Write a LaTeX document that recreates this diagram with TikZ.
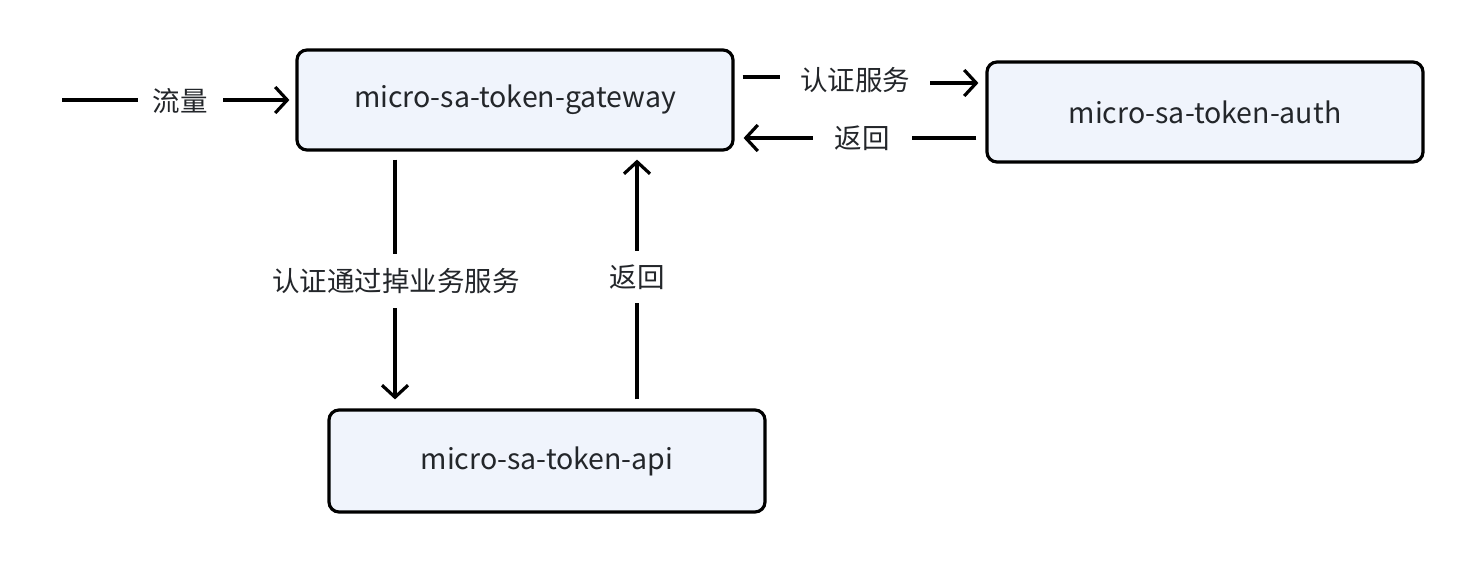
\documentclass[tikz,border=0pt]{standalone}
\usepackage{fontspec}
\setmainfont{Noto Sans CJK SC}
\usetikzlibrary{arrows.meta}
\definecolor{boxfill}{RGB}{240,244,252}
\definecolor{txt}{RGB}{35,38,42}
\definecolor{ln}{RGB}{0,0,0}
\tikzset{
  svc/.style={draw=ln, line width=3.2pt, fill=boxfill, rounded corners=10pt,
    minimum width=436pt, minimum height=100pt, inner sep=0pt,
    text=txt, font=\fontsize{28.5pt}{33pt}\selectfont},
  lbl/.style={fill=white, text=txt, inner xsep=15pt, inner ysep=14pt,
    font=\fontsize{27.5pt}{31pt}\selectfont},
  arr/.style={draw=ln, line width=3.2pt, -{Straight Barb[length=12pt,width=26pt,line width=3.2pt]}},
  plain/.style={draw=ln, line width=3.2pt}
}
\begin{document}
\begin{tikzpicture}[x=1pt,y=-1pt]
\useasboundingbox (0,0) rectangle (1472,560);
\node[svc] (gw) at (515,100) {\raisebox{-2pt}{micro-sa-token-gateway}};
\node[svc] (auth) at (1205,112) {\raisebox{-2pt}{micro-sa-token-auth}};
\node[svc, minimum height=102pt] (api) at (547,461) {\raisebox{-2pt}{micro-sa-token-api}};
\coordinate (src) at (62,100);
% traffic
\draw[arr, shorten >=6pt] (src) -- (gw.west);
\node[lbl] (l1) at (180,101) {流量};
% auth request
\draw[arr] ([xshift=8pt,yshift=23pt]gw.east) -- (853,77) -- (853,83) -- ([xshift=-7pt,yshift=29pt]auth.west);
\node[lbl, inner xsep=20pt] (l2) at (855,80) {认证服务};
% auth return
\draw[arr] ([xshift=-9pt,yshift=-26pt]auth.west) -- ([xshift=9pt,yshift=-38pt]gw.east);
\node[lbl, inner xsep=22pt] (l3) at (862,138) {返回};
% down to api
\draw[arr] ([xshift=-120pt,yshift=-8pt]gw.south) -- ([xshift=-152pt,yshift=9pt]api.north);
\node[lbl] (l4) at (396,281) {认证通过掉业务服务};
% up from api
\draw[arr] ([xshift=90pt,yshift=9pt]api.north) -- ([xshift=122pt,yshift=-8pt]gw.south);
\node[lbl] (l5) at (637,277) {返回};
\end{tikzpicture}
\end{document}
